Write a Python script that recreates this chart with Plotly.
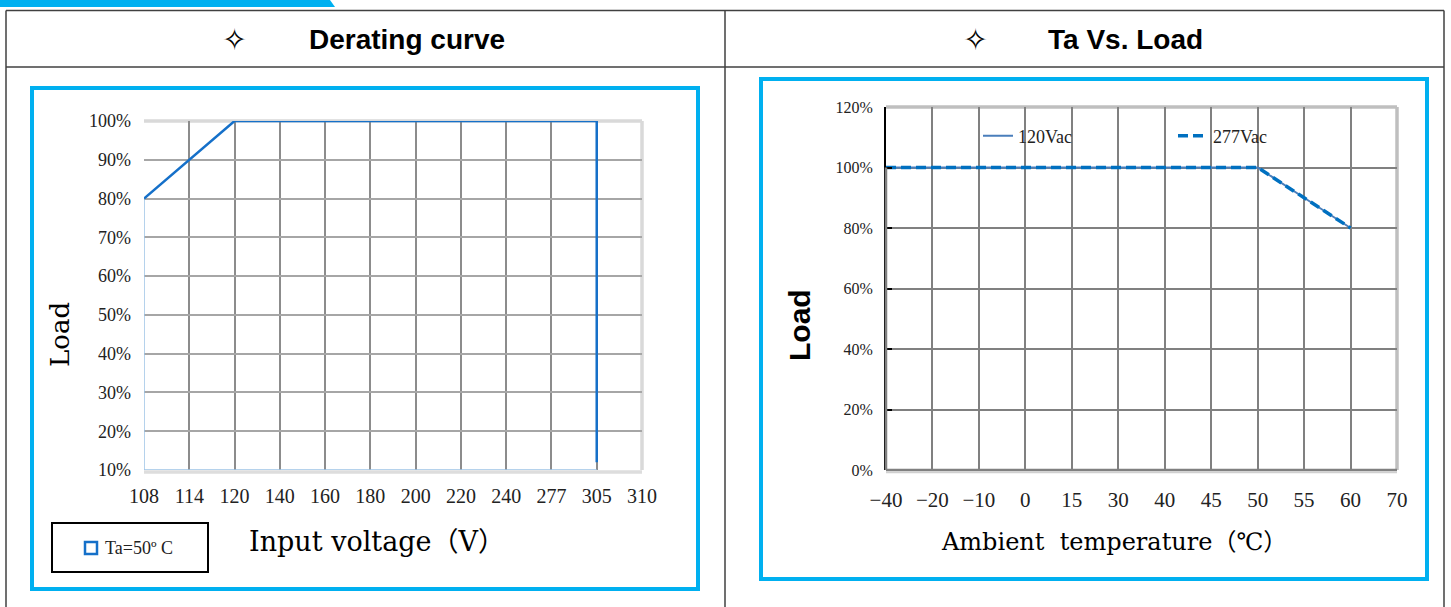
import plotly.graph_objects as go

W, H = 1451, 607

# ---------------- data ----------------
volt_cats = ["108", "114", "120", "140", "160", "180", "200", "220", "240", "277", "305", "310"]
derate_v = ["108", "114", "120", "305", "305"]
derate_load = [80, 90, 100, 100, 12]
base_v = ["305", "108", "108"]
base_load = [10, 10, 80]
load_ticks_left = [10, 20, 30, 40, 50, 60, 70, 80, 90, 100]

temp_cats = ["-40", "-20", "-10", "0", "15", "30", "40", "45", "50", "55", "60", "70"]
curve_t = ["-40", "-20", "-10", "0", "15", "30", "40", "45", "50", "55", "60"]
load_120vac = [100, 100, 100, 100, 100, 100, 100, 100, 100, 90, 80]
load_277vac = [100, 100, 100, 100, 100, 100, 100, 100, 100, 90, 80]
load_ticks_right = [0, 20, 40, 60, 80, 100, 120]


def px(x):
    return x / W


def py(y):
    return 1 - y / H


SERIF = "Liberation Serif, Times New Roman, serif"
TITLE_SERIF = "DejaVu Serif, Noto Sans CJK SC, serif"
CYAN = "#00b0f0"

fig = go.Figure()

# ---------- left chart ----------
fig.add_trace(go.Scatter(x=base_v, y=base_load, mode="lines",
                         line=dict(color="#9dc3e6", width=1.5),
                         xaxis="x", yaxis="y", showlegend=False, hoverinfo="skip"))
fig.add_trace(go.Scatter(x=derate_v, y=derate_load, mode="lines", name="Ta=50º C",
                         line=dict(color="#1570c9", width=2.5),
                         xaxis="x", yaxis="y", showlegend=False))

# ---------- right chart ----------
fig.add_trace(go.Scatter(x=curve_t, y=load_120vac, mode="lines", name="120Vac",
                         line=dict(color="#4a7ebb", width=2),
                         xaxis="x2", yaxis="y2"))
fig.add_trace(go.Scatter(x=curve_t, y=load_277vac, mode="lines", name="277Vac",
                         line=dict(color="#0070c0", width=3.5, dash="10px,5px"),
                         xaxis="x2", yaxis="y2"))

fig.update_layout(
    width=W, height=H, autosize=False,
    margin=dict(l=0, r=0, t=0, b=0, pad=0, autoexpand=False),
    paper_bgcolor="white", plot_bgcolor="white",
    xaxis=dict(domain=[px(144), px(642)], anchor="y", type="category",
               categoryorder="array", categoryarray=volt_cats,
               range=[0, len(volt_cats) - 1], automargin=False,
               tickvals=volt_cats, showgrid=True, gridcolor="#8c8c8c", gridwidth=2,
               zeroline=False, showline=False, ticks="",
               tickfont=dict(family=SERIF, size=20, color="#222"),
               ticklabelstandoff=12, fixedrange=True),
    yaxis=dict(domain=[py(470), py(121)], anchor="x", range=[10, 100], automargin=False,
               tickmode="array", tickvals=load_ticks_left,
               ticktext=[f"{v}%" for v in load_ticks_left],
               showgrid=True, gridcolor="#a6a6a6", gridwidth=2,
               zeroline=False, showline=False, ticks="",
               tickfont=dict(family=SERIF, size=18, color="#222"),
               ticklabelstandoff=12, fixedrange=True),
    xaxis2=dict(domain=[px(886), px(1397)], anchor="y2", type="category",
                categoryorder="array", categoryarray=temp_cats,
                range=[0, len(temp_cats) - 1], automargin=False,
                tickvals=temp_cats, ticktext=[t.replace("-", "−") for t in temp_cats],
                showgrid=True, gridcolor="#808080", gridwidth=2,
                zeroline=False, showline=False, ticks="",
                tickfont=dict(family=SERIF, size=21, color="#222"),
                ticklabelstandoff=15, fixedrange=True),
    yaxis2=dict(domain=[py(470), py(107)], anchor="x2", range=[0, 120], automargin=False,
                tickmode="array", tickvals=load_ticks_right,
                ticktext=[f"{v}%" for v in load_ticks_right],
                showgrid=True, gridcolor="#808080", gridwidth=2,
                zeroline=False, showline=True, linecolor="black", linewidth=2,
                ticks="inside", ticklen=6, tickcolor="black", tickwidth=2,
                tickfont=dict(family=SERIF, size=16, color="#222"),
                ticklabelstandoff=8, fixedrange=True),
    legend=dict(orientation="h", x=px(978), xanchor="left", y=py(136), yanchor="middle",
                bgcolor="rgba(0,0,0,0)", borderwidth=0,
                font=dict(family=SERIF, size=18, color="#222"),
                entrywidth=150, entrywidthmode="pixels"),
    showlegend=True,
)

shapes = []


def line(x0, y0, x1, y1, color, width, layer="above", xref="paper", yref="paper"):
    shapes.append(dict(type="line", x0=x0, y0=y0, x1=x1, y1=y1, xref=xref, yref=yref,
                       line=dict(color=color, width=width), layer=layer))


# top blue bar
shapes.append(dict(type="path", path=f"M 0 {py(0)} L {px(330)} {py(0)} L {px(335)} {py(7)} L 0 {py(7)} Z",
                   xref="paper", yref="paper", fillcolor=CYAN, line=dict(width=0)))
# table lines
TC = "#404040"
line(px(6), py(10.5), px(1444), py(10.5), TC, 1.5)
line(px(6), py(67), px(1444), py(67), TC, 1.5)
line(px(6), py(10.5), px(6), py(607), TC, 1.5)
line(px(1444), py(10.5), px(1444), py(607), TC, 1.5)
line(px(725), py(10.5), px(725), py(607), TC, 1.5)

# cyan frames
shapes.append(dict(type="rect", x0=px(32), y0=py(88), x1=px(698), y1=py(589),
                   xref="paper", yref="paper", line=dict(color=CYAN, width=4)))
shapes.append(dict(type="rect", x0=px(761), y0=py(79), x1=px(1427), y1=py(579),
                   xref="paper", yref="paper", line=dict(color=CYAN, width=4)))

# left plot borders
line(0, 1, 1, 1, "#d9d9d9", 3.5, "below", "x domain", "y domain")
line(1, 0, 1, 1, "#d9d9d9", 3.5, "below", "x domain", "y domain")
line(0, -0.006, 1, -0.006, "#dddddd", 3.5, "below", "x domain", "y domain")
# right plot borders
line(0, 1, 1, 1, "#bfbfbf", 3.5, "below", "x2 domain", "y2 domain")
line(1, 0, 1, 1, "#bfbfbf", 3.5, "below", "x2 domain", "y2 domain")
line(0, 0, 1, 0, "#808080", 2.5, "below", "x2 domain", "y2 domain")
line(0, -0.006, 1, -0.006, "#d0d0d0", 2, "below", "x2 domain", "y2 domain")
line(0, 0, 0, 100 / 120, "#808080", 2.5, "above", "x2 domain", "y2 domain")

# left legend box
shapes.append(dict(type="rect", x0=px(52), y0=py(523), x1=px(208), y1=py(572),
                   xref="paper", yref="paper", line=dict(color="black", width=2)))
shapes.append(dict(type="rect", x0=px(85), y0=py(542), x1=px(97), y1=py(554),
                   xref="paper", yref="paper", line=dict(color="#1570c9", width=2.5)))

annotations = [
    dict(x=px(235), y=py(39), text="✧", font=dict(family="DejaVu Sans", size=30, color="black")),
    dict(x=px(407), y=py(39), text="<b>Derating curve</b>",
         font=dict(family="Liberation Sans, Arial", size=28, color="black")),
    dict(x=px(975), y=py(39), text="✧", font=dict(family="DejaVu Sans", size=30, color="black")),
    dict(x=px(1125), y=py(39), text="<b>Ta Vs. Load</b>",
         font=dict(family="Liberation Sans, Arial", size=28, color="black")),
    dict(x=px(60), y=py(335), text="Load", textangle=-90,
         font=dict(family=TITLE_SERIF, size=26, color="black")),
    dict(x=px(377), y=py(541), text="Input voltage（V）",
         font=dict(family=TITLE_SERIF, size=27, color="black")),
    dict(x=px(103), y=py(548), text="Ta=50º C", xanchor="left",
         font=dict(family=SERIF, size=18, color="#222")),
    dict(x=px(800), y=py(325), text="<b>Load</b>", textangle=-90,
         font=dict(family="Liberation Sans, Arial", size=30, color="black")),
    dict(x=px(1114), y=py(542), text="Ambient  temperature（℃）",
         font=dict(family=TITLE_SERIF, size=24, color="black")),
]
for a in annotations:
    a.setdefault("xanchor", "center")
    a.update(xref="paper", yref="paper", yanchor="middle", showarrow=False)

fig.update_layout(shapes=shapes, annotations=annotations)

fig.write_html("out.html", config={"displayModeBar": False},
               post_script="document.body.style.margin='0px';document.body.style.padding='0px';")
